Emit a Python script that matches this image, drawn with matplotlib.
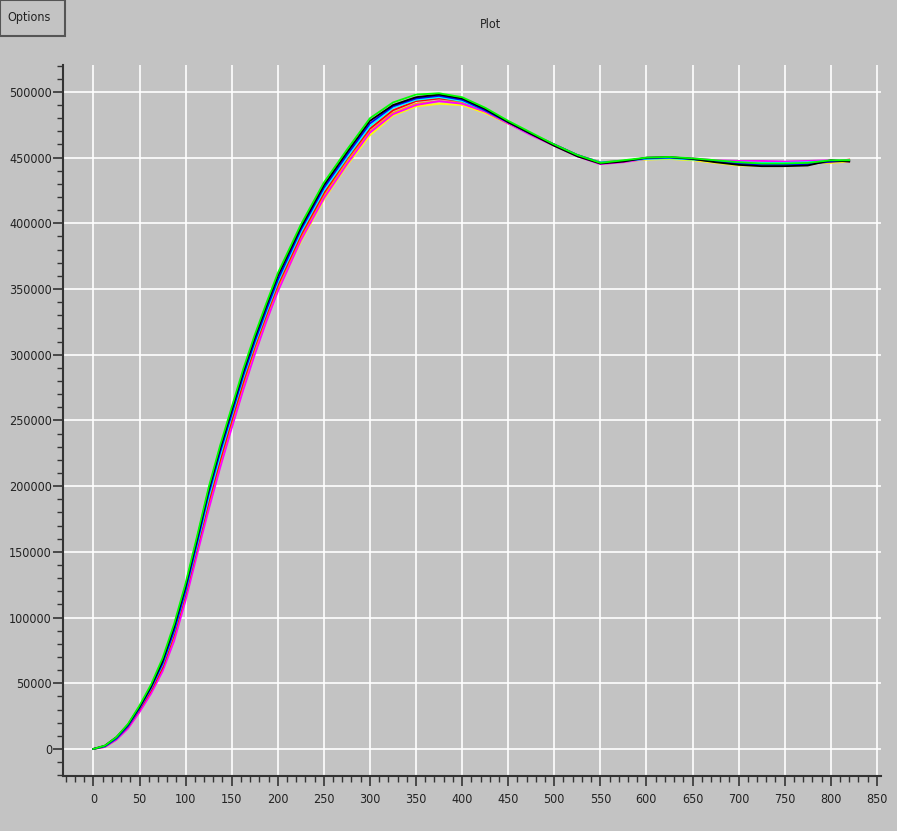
import matplotlib
matplotlib.use("Agg")
import matplotlib.pyplot as plt
from matplotlib.patches import Rectangle
from matplotlib.ticker import MultipleLocator

plt.rcParams['font.family'] = ['DejaVu Sans']
plt.rcParams['font.stretch'] = 'condensed'

# sample positions (x) shared by all runs
x = [0, 12.5, 25, 37.5, 50, 62.5, 75, 87.5, 100, 112.5, 125, 137.5, 150, 162.5, 175, 187.5,
     200, 225, 250, 275, 300, 325, 350, 375, 400, 425, 450, 475, 500, 525, 550, 575, 600,
     625, 650, 675, 700, 725, 750, 775, 800, 820]

# run values, in thousands
green = [0, 2.5, 9, 19, 33, 49, 69, 95, 126, 162, 199, 231, 260, 289, 315, 339,
         362, 399, 431, 456, 480, 492, 498, 499, 496, 488, 478, 469, 460, 452, 446, 448, 450,
         450.5, 449.5, 448, 446.5, 445.5, 445.5, 446, 448, 448]
black = [0, 2.5, 9, 18.5, 32, 47.5, 67, 93, 124, 160, 197, 229, 258, 287, 313, 337,
         360, 397, 429, 454, 478, 490, 496, 498, 495, 487, 477, 468, 459, 451, 445.5, 447, 450,
         450.5, 449, 446.5, 444.5, 443.5, 443.5, 444, 448, 447]
blue = [0, 2, 8, 17.5, 31, 46.5, 65, 90, 121, 157, 194, 226, 255, 284, 310, 334,
        357, 395, 427, 452, 476, 489, 495, 497, 494, 486, 477, 468, 460, 452, 446, 447.5, 449.5,
        450, 449, 447, 445.5, 444.5, 444.5, 445, 447, 447.5]
cyan = [0, 2, 8, 17.5, 31, 46, 64, 89, 120, 155, 191, 223, 253, 282, 308, 332,
        355, 393, 425, 450, 474, 488, 494, 496, 493, 486, 477, 468, 460, 452, 446.5, 447.5, 449,
        449.5, 448.5, 447.5, 446.5, 446, 446, 446.5, 447.5, 448]
red = [0, 2, 8, 17, 30, 44.5, 62, 87, 118, 153, 188, 220, 250, 279, 306, 330,
       353, 391, 423, 449, 472, 486, 493, 495, 493, 486, 477, 468, 460, 452, 446.5, 447.5, 449.5,
       450, 449, 447.5, 446, 445, 445.5, 446, 447, 448.5]
orange = [0, 1.5, 7, 16, 29, 43.5, 61, 85, 116, 151, 186, 218, 248, 277, 304, 328,
          351, 389, 421, 447, 470, 484, 491, 493, 492, 485, 476, 468, 460, 452, 446.5, 447.5, 449.5,
          450, 448.5, 447, 446, 446.5, 446, 446, 446.5, 448]
magenta = [0, 1.5, 7, 15.5, 28, 42, 59, 82, 113, 148, 182, 214, 244, 273, 300, 325,
           348, 387, 419, 445, 469, 483, 490, 493, 491, 485, 476, 467, 459, 451, 445, 446.5, 449,
           450, 449.5, 448, 447.5, 447.5, 447, 447.5, 448, 447]
yellow = [0, 2, 8, 17, 30, 44, 62, 85, 115, 150, 184, 216, 246, 275, 302, 326,
          349, 386, 418, 444, 467, 482, 489, 491, 490, 484, 476, 468, 460, 452, 446.5, 447, 448.5,
          449, 448, 446, 444, 444, 445, 446, 446, 447]

runs = [(yellow, '#ffff00'), (orange, '#ffa500'), (magenta, '#ff00ff'), (red, '#ff0000'),
        (cyan, '#00ffff'), (blue, '#0000ff'), (black, '#000000'), (green, '#00ff00')]

bg = '#c3c3c3'
fig = plt.figure(figsize=(8.97, 8.31), dpi=100, facecolor=bg)
ax = fig.add_axes([63 / 897, 55 / 831, 818 / 897, 711 / 831], facecolor=bg)

for vals, c in runs:
    ax.plot(x, [v * 1000 for v in vals], color=c, lw=1.3)

ax.set_xlim(-33, 854.5)
ax.set_ylim(-20600, 520500)
ax.xaxis.set_major_locator(MultipleLocator(50))
ax.xaxis.set_minor_locator(MultipleLocator(10))
ax.yaxis.set_major_locator(MultipleLocator(50000))
ax.yaxis.set_minor_locator(MultipleLocator(10000))
ax.grid(True, which='major', color='white', lw=1.2)
ax.set_axisbelow(True)

for s in ['top', 'right']:
    ax.spines[s].set_visible(False)
for s in ['left', 'bottom']:
    ax.spines[s].set_color('#333333')
    ax.spines[s].set_linewidth(1.5)

ax.tick_params(which='major', length=7, width=1.2, color='#333333', labelsize=9, labelcolor='#222222')
ax.tick_params(which='minor', length=4, width=1.0, color='#333333')
ax.tick_params(axis='x', pad=5)
ax.tick_params(axis='y', pad=1)

# "Options" button and title
fig.patches.append(Rectangle((0, 1 - 36 / 831), 65 / 897, 36 / 831, transform=fig.transFigure,
                             facecolor=bg, edgecolor='#555555', lw=1.5))
fig.text(7 / 897, 1 - 18 / 831, "Options", fontsize=9, va='center', ha='left', color='#222222')
fig.text(490 / 897, 1 - 25 / 831, "Plot", fontsize=9, va='center', ha='center', color='#222222')

fig.savefig("out.png", dpi=100, facecolor=bg)
